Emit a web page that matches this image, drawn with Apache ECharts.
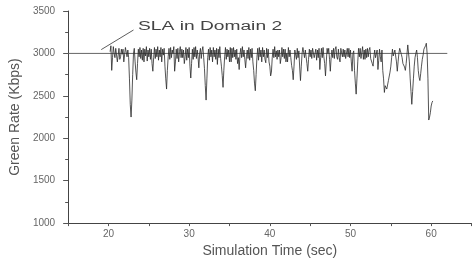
<!DOCTYPE html>
<html>
<head>
<meta charset="utf-8">
<script src="https://cdn.jsdelivr.net/npm/echarts@6/dist/echarts.min.js"></script>
<style>
html,body{margin:0;padding:0;background:#fff;}
#chart{width:475px;height:263px;}
</style>
</head>
<body>
<div id="chart"></div>
<script>
// Simulation time (sec), one row per second
const times = [
20.2,20.3,20.4,20.5,20.6,20.7,20.8,20.9,21.0,21.1,
21.2,21.3,21.4,21.5,21.6,21.7,21.8,21.9,22.0,22.1,
22.2,22.3,22.4,22.5,22.6,22.7,22.8,22.9,23.0,23.1,
23.2,23.3,23.4,23.5,23.6,23.7,23.8,23.9,24.0,24.1,
24.2,24.3,24.4,24.5,24.6,24.7,24.8,24.9,25.0,25.1,
25.2,25.3,25.4,25.5,25.6,25.7,25.8,25.9,26.0,26.1,
26.2,26.3,26.4,26.5,26.6,26.7,26.8,26.9,27.0,27.1,
27.2,27.3,27.4,27.5,27.6,27.7,27.8,27.9,28.0,28.1,
28.2,28.3,28.4,28.5,28.6,28.7,28.8,28.9,29.0,29.1,
29.2,29.3,29.4,29.5,29.6,29.7,29.8,29.9,30.0,30.1,
30.2,30.3,30.4,30.5,30.6,30.7,30.8,30.9,31.0,31.1,
31.2,31.3,31.4,31.5,31.6,31.7,31.8,31.9,32.0,32.1,
32.2,32.3,32.4,32.5,32.6,32.7,32.8,32.9,33.0,33.1,
33.2,33.3,33.4,33.5,33.6,33.7,33.8,33.9,34.0,34.1,
34.2,34.3,34.4,34.5,34.6,34.7,34.8,34.9,35.0,35.1,
35.2,35.3,35.4,35.5,35.6,35.7,35.8,35.9,36.0,36.1,
36.2,36.3,36.4,36.5,36.6,36.7,36.8,36.9,37.0,37.1,
37.2,37.3,37.4,37.5,37.6,37.7,37.8,37.9,38.0,38.1,
38.2,38.3,38.4,38.5,38.6,38.7,38.8,38.9,39.0,39.1,
39.2,39.3,39.4,39.5,39.6,39.7,39.8,39.9,40.0,40.1,
40.2,40.3,40.4,40.5,40.6,40.7,40.8,40.9,41.0,41.1,
41.2,41.3,41.4,41.5,41.6,41.7,41.8,41.9,42.0,42.1,
42.2,42.3,42.4,42.5,42.6,42.7,42.8,42.9,43.0,43.1,
43.2,43.3,43.4,43.5,43.6,43.7,43.8,43.9,44.0,44.1,
44.2,44.3,44.4,44.5,44.6,44.7,44.8,44.9,45.0,45.1,
45.2,45.3,45.4,45.5,45.6,45.7,45.8,45.9,46.0,46.1,
46.2,46.3,46.4,46.5,46.6,46.7,46.8,46.9,47.0,47.1,
47.2,47.3,47.4,47.5,47.6,47.7,47.8,47.9,48.0,48.1,
48.2,48.3,48.4,48.5,48.6,48.7,48.8,48.9,49.0,49.1,
49.2,49.3,49.4,49.5,49.6,49.7,49.8,49.9,50.0,50.1,
50.2,50.3,50.4,50.5,50.6,50.7,50.8,50.9,51.0,51.1,
51.2,51.3,51.4,51.5,51.6,51.7,51.8,51.9,52.0,52.1,
52.2,52.3,52.4,52.5,52.6,52.7,52.8,52.9,53.0,53.1,
53.2,53.3,53.4,53.5,53.6,53.7,53.8,53.9,54.0,54.1,
54.2,54.3,54.4,54.5,54.6,54.7,54.8,54.9,55.0,55.1,
55.2,55.3,55.4,55.5,55.6,55.7,55.8,55.9,56.0,56.1,
56.2,56.3,56.4,56.5,56.6,56.7,56.8,56.9,57.0,57.1,
57.2,57.3,57.4,57.5,57.6,57.7,57.8,57.9,58.0,58.1,
58.2,58.3,58.4,58.5,58.6,58.7,58.8,58.9,59.0,59.1,
59.2,59.3,59.4,59.5,59.6,59.7,59.8,59.9,60.0,60.1,
60.2
];
// Green rate (Kbps), same rows as times
const greenRate = [
3020,3090,2800,2950,3080,3000,2950,3060,3040,2900,
2980,3060,2930,2960,3050,2990,3050,2900,2920,3070,
3070,2960,3040,2950,2700,2400,2250,2450,2750,3000,
3060,2900,2780,2690,2880,3050,2960,3070,2940,3040,
2920,3060,2900,3050,2970,3080,2910,3040,2960,3060,
2930,3050,2880,2790,2950,3070,2940,3050,2960,3080,
2920,3040,2960,3070,2900,3050,2980,3060,2850,2700,
2580,2800,2960,3060,2930,3070,2950,3040,3000,3080,
2790,2900,3050,2940,3060,2900,3020,3080,2950,3050,
2950,3040,2880,2960,3070,2920,3050,2950,3070,2850,
2710,2880,3050,2930,3070,2960,3080,2940,3040,2960,
2830,3000,3060,2940,3030,3080,2950,2820,2620,2450,
2700,2950,3050,2920,3070,2960,3040,2900,3070,2960,
3040,2930,3060,2870,3050,2950,3080,2940,2850,2740,
2600,2800,2960,3070,2930,3050,2960,3040,2900,3070,
2900,3060,2950,3070,2960,3040,2930,3050,2880,2950,
2810,2990,3060,2950,3080,2960,3040,2930,2830,2960,
3040,2940,3070,2920,3050,2950,3060,2900,2800,2650,
2560,2750,2950,3060,2920,3070,2960,3040,2900,3070,
2960,3040,2930,2890,3060,2950,3050,2900,2850,2735,
2780,2950,3050,2950,3080,2960,3030,2930,3040,2960,
3040,2880,2950,3070,2960,3050,2940,3050,2900,3000,
2900,3070,2960,3040,2950,2860,2800,2690,2850,3040,
3040,2930,3060,2950,3030,2840,2680,2850,3000,3070,
3070,2950,3040,2960,2880,2790,2930,3050,2960,3040,
2940,3060,3080,2950,2960,3050,2920,3040,2950,3060,
2810,2950,3060,2950,3070,2960,2880,2735,2900,3060,
3000,3060,2930,2790,2950,3040,2950,3060,2940,3050,
3080,2960,2930,3050,2950,2900,3060,3070,2960,3050,
2960,3040,2940,2920,3060,2960,3060,2950,3040,2900,
2790,3000,3030,2800,2650,2520,2700,2900,3060,2960,
3060,2940,2950,3080,2930,3040,2930,3050,2950,3060,
2960,3040,3070,2940,2920,2880,2850,2960,3040,2950,
2950,3040,2810,2920,3050,2960,2900,3040,2800,2700,
2540,2620,2640,2580,2600,2680,2700,2780,2850,2950,
3050,2970,2950,3040,3060,2900,2790,2900,3000,3060,
3080,2990,2950,2880,2870,2840,2800,2880,2900,3100,
3120,2900,2700,2550,2400,2550,2700,2850,2950,3000,
3040,2950,2800,2720,2680,2760,2850,2930,2980,3050,
3060,3090,3120,3000,2700,2215,2250,2300,2380,2420,
2440
];
// SLA reference level
const slaValue = 3000;
const slaRange = [15, 62];
const slaLabel = 'SLA in Domain 2';
const arrowFrom = [23.1, 3276];
const arrowTo = [19.1, 3045];
// Axes
const xRange = [15, 65];
const yRange = [1000, 3500];
const xLabels = [20, 30, 40, 50, 60];

const chart = echarts.init(document.getElementById('chart'), null, {renderer: 'canvas'});
const font = 'Liberation Sans, Arial, sans-serif';
const option = {
  animation: false,
  backgroundColor: '#fff',
  grid: {left: 66, right: 3.5, top: 11, bottom: 37},
  xAxis: {
    type: 'value', min: xRange[0], max: xRange[1], interval: 5,
    name: 'Simulation Time (sec)', nameLocation: 'middle', nameGap: 19,
    nameTextStyle: {fontFamily: font, fontSize: 14, color: '#555'},
    axisLine: {lineStyle: {color: '#444', width: 1}},
    axisTick: {inside: false, length: 3, lineStyle: {color: '#555'}},
    axisLabel: {
      fontFamily: font, fontSize: 10, color: '#666', margin: 6,
      formatter: v => xLabels.indexOf(v) >= 0 ? String(v) : ''
    },
    splitLine: {show: false}
  },
  yAxis: {
    type: 'value', min: yRange[0], max: yRange[1], interval: 500,
    name: 'Green Rate (Kbps)', nameLocation: 'middle', nameGap: 45,
    nameTextStyle: {fontFamily: font, fontSize: 14, color: '#555'},
    axisLine: {show: true, lineStyle: {color: '#444', width: 1}},
    axisTick: {show: true, inside: false, length: 5, lineStyle: {color: '#555'}},
    minorTick: {show: true, splitNumber: 2, length: 3, lineStyle: {color: '#555'}},
    axisLabel: {fontFamily: font, fontSize: 10, color: '#666', margin: 13, formatter: v => String(v)},
    splitLine: {show: false}
  },
  series: [
    {
      type: 'line', name: 'SLA', showSymbol: false, silent: true,
      data: [[slaRange[0], slaValue], [slaRange[1], slaValue]],
      lineStyle: {color: '#666', width: 1},
      markLine: {
        silent: true, symbol: ['none', 'arrow'], symbolSize: [0, 6],
        label: {show: false},
        lineStyle: {color: '#333', width: 0.8, type: 'solid'},
        data: [[{coord: arrowFrom}, {coord: arrowTo}]]
      }
    },
    {
      type: 'line', name: 'Green Rate', showSymbol: false, silent: true,
      data: times.map((t, i) => [t, greenRate[i]]),
      lineStyle: {color: '#2a2a2a', width: 0.8}
    }
  ],
  graphic: [{
    type: 'text', left: 138, top: 21, scaleX: 1.6,
    style: {text: slaLabel, font: '12px ' + font, fill: '#444'}
  }]
};
chart.setOption(option);
</script>
</body>
</html>
